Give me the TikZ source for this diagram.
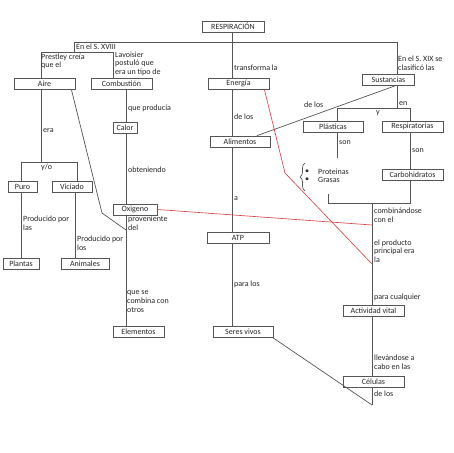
\documentclass[tikz,border=0pt]{standalone}
\usepackage{fontspec}
\setmainfont{Carlito}
\usetikzlibrary{calc, decorations.pathreplacing}
\definecolor{linegray}{RGB}{85,85,85}
\definecolor{linkred}{RGB}{215,70,70}
\tikzset{
    cbox/.style={rectangle, draw=linegray, line width=0.7pt, fill=white,
                 minimum height=11pt, inner sep=0pt, text=black!85,
                 font=\fontsize{8}{8.6}\selectfont},
    conn/.style={draw=linegray, line width=0.7pt},
    redconn/.style={draw=linkred, line width=0.65pt},
    lbl/.style={anchor=west, inner sep=0pt, align=left, text=black!85,
                font=\fontsize{8}{8.6}\selectfont},
}

\begin{document}
\begin{tikzpicture}[x=1pt, y=-1pt]
    \path[use as bounding box, fill=white] (0,0) rectangle (453,453);
    % boxes
    \node[cbox, minimum width=62pt] (titulo) at (233,26.5) {RESPIRACIÓN};
    \node[cbox, minimum width=61pt] (aire) at (44.5,83.5) {Aire};
    \node[cbox, minimum width=61pt] (comb) at (121.5,83.5) {Combustión};
    \node[cbox, minimum width=61pt] (ener) at (238.5,83.5) {Energía};
    \node[cbox, minimum width=52pt] (sust) at (388.5,80) {Sustancias};
    \node[cbox, minimum width=24pt] (calor) at (125,128) {Calor};
    \node[cbox, minimum width=60pt] (plast) at (333,126.5) {Plásticas};
    \node[cbox, minimum width=61pt] (resps) at (412.5,126.5) {Respiratorias};
    \node[cbox, minimum width=60pt] (alim) at (240,141.5) {Alimentos};
    \node[cbox, minimum width=29pt] (puro) at (22.5,186.5) {Puro};
    \node[cbox, minimum width=40pt] (vic) at (72,186.5) {Viciado};
    \node[cbox, minimum width=61pt] (carb) at (412.5,174.5) {Carbohidratos};
    \node[cbox, minimum width=44pt] (oxi) at (135,209.5) {Oxigeno};
    \node[cbox, minimum width=62pt] (atp) at (238,238) {ATP};
    \node[cbox, minimum width=36pt] (plan) at (21,263.5) {Plantas};
    \node[cbox, minimum width=48pt] (anim) at (85,263.5) {Animales};
    \node[cbox, minimum width=61pt] (actv) at (373.5,310.5) {Actividad vital};
    \node[cbox, minimum width=51pt] (elem) at (138.5,331.5) {Elementos};
    \node[cbox, minimum width=60pt] (seres) at (243,331.5) {Seres vivos};
    \node[cbox, minimum width=61pt] (cel) at (373.5,381.5) {Células};
    % junctions
    \coordinate (top) at (232,42);
    \coordinate (hl) at (74,42);
    \coordinate (hr) at (397,42);
    \coordinate (s18) at (74,52);
    \coordinate (ja) at (41,52);
    \coordinate (jc) at (113,52);
    \coordinate (js) at (397,108);
    \coordinate (jp) at (337,108);
    \coordinate (jq) at (410,108);
    \coordinate (pend) at (337,158);
    \coordinate (jr) at (410,203);
    \coordinate (jv) at (372,203);
    \coordinate (jl) at (328,194);
    \coordinate (bt) at (372,405);
    \coordinate (ja2) at (41,162);
    \coordinate (jpu) at (21,162);
    \coordinate (jvi) at (77,162);
    \coordinate (kA) at (102,213);
    \coordinate (jO) at (126,230);
    \coordinate (rc1) at (372,225);
    \coordinate (kR) at (285,173);
    \coordinate (rc2) at (372,264);
    % connectors
    \draw[conn] (titulo.south -| top) -- (top);
    \draw[conn] (hl) -- (hr);
    \draw[conn] (hl) -- (s18);
    \draw[conn] (ja) -- (jc);
    \draw[conn] (ja) -- (ja |- aire.north);
    \draw[conn] (jc) -- (jc |- comb.north);
    \draw[conn] (top) -- (top |- ener.north);
    \draw[conn] (hr) -- (hr |- sust.north);
    \draw[conn] (top |- ener.south) -- (top |- alim.north);
    \draw[conn] (top |- alim.south) -- (top |- atp.north);
    \draw[conn] (top |- atp.south) -- (top |- seres.north);
    \draw[conn] (js |- sust.south) -- (js);
    \draw[conn] (jp) -- (jq);
    \draw[conn] (jp) -- (jp |- plast.north);
    \draw[conn] (jq) -- (jq |- resps.north);
    \draw[conn] ([xshift=6.5pt]sust.south) -- ([xshift=17pt]alim.north);
    \draw[conn] (pend |- plast.south) -- (pend);
    \draw[conn] (jr |- resps.south) -- (jr |- carb.north);
    \draw[conn] (jr |- carb.south) -- (jr) -- (jl |- jr) -- (jl);
    \draw[conn] (jv) -- (jv |- actv.north);
    \draw[conn] (jv |- actv.south) -- (jv |- cel.north);
    \draw[conn] (jv |- cel.south) -- (bt);
    \draw[conn] ([xshift=-1pt]seres.south east) -- (bt);
    \draw[conn] (ja2 |- aire.south) -- (ja2);
    \draw[conn] (jpu) -- (jvi);
    \draw[conn] (jpu) -- (jpu |- puro.north);
    \draw[conn] (jvi) -- (jvi |- vic.north);
    \draw[conn] (jpu |- puro.south) -- (jpu |- plan.north);
    \draw[conn] (75,0 |- vic.south) -- (75,0 |- anim.north);
    \draw[conn] ([xshift=-4pt]aire.south east) -- (kA) -- (jO);
    \draw[conn] (jO |- comb.south) -- (jO |- calor.north);
    \draw[conn] (jO |- calor.south) -- (jO |- oxi.north);
    \draw[conn] (jO |- oxi.south) -- (jO |- elem.north);
    \draw[redconn] (oxi.east) -- (rc1);
    \draw[redconn] ([xshift=-5pt]ener.south east) -- (kR) -- (rc2);
    % brace and list
    \draw[conn, decorate, decoration={brace, amplitude=5pt}] (305,191) -- (305,163);
    \node[lbl] (b1) at (305,172) {\textbullet};
    \node[lbl] (b2) at (305,180) {\textbullet};
    \node[lbl] (prot) at (318,172) {Proteinas};
    \node[lbl] (gras) at (318,180) {Grasas};
    % labels
    \node[lbl] (l1) at (76,47) {En el S. XVIII};
    \node[lbl] (l2) at (41,61.5) {Prestley creía\\que el};
    \node[lbl] (l3) at (115,63.5) {Lavoisier\\postuló que\\era un tipo de};
    \node[lbl] (l4) at (234,68) {transforma la};
    \node[lbl] (l5) at (398,63) {En el S. XIX se\\clasificó las};
    \node[lbl] (l6) at (128,108) {que producía};
    \node[lbl] (l7) at (234,117) {de los};
    \node[lbl] (l8) at (304,104.5) {de los};
    \node[lbl] (l9) at (399,103.5) {en};
    \node[lbl] (l10) at (376,113) {y};
    \node[lbl] (l11) at (339,143) {son};
    \node[lbl] (l12) at (412,151) {son};
    \node[lbl] (l13) at (43,131) {era};
    \node[lbl] (l14) at (41,167.5) {y/o};
    \node[lbl] (l15) at (128,170) {obteniendo};
    \node[lbl] (l16) at (23,223.5) {Producido por\\las};
    \node[lbl] (l17) at (77,243.5) {Producido por\\los};
    \node[lbl] (l18) at (128,223.5) {proveniente\\del};
    \node[lbl] (l19) at (234,199) {a};
    \node[lbl] (l20) at (374,215) {combinándose\\con el};
    \node[lbl] (l21) at (374,251) {el producto\\principal era\\la};
    \node[lbl] (l22) at (234,284) {para los};
    \node[lbl] (l23) at (127,301.5) {que se\\combina con\\otros};
    \node[lbl] (l24) at (374,297) {para cualquier};
    \node[lbl] (l25) at (374,362.5) {llevándose a\\cabo en las};
    \node[lbl] (l26) at (374,394) {de los};
\end{tikzpicture}
\end{document}
